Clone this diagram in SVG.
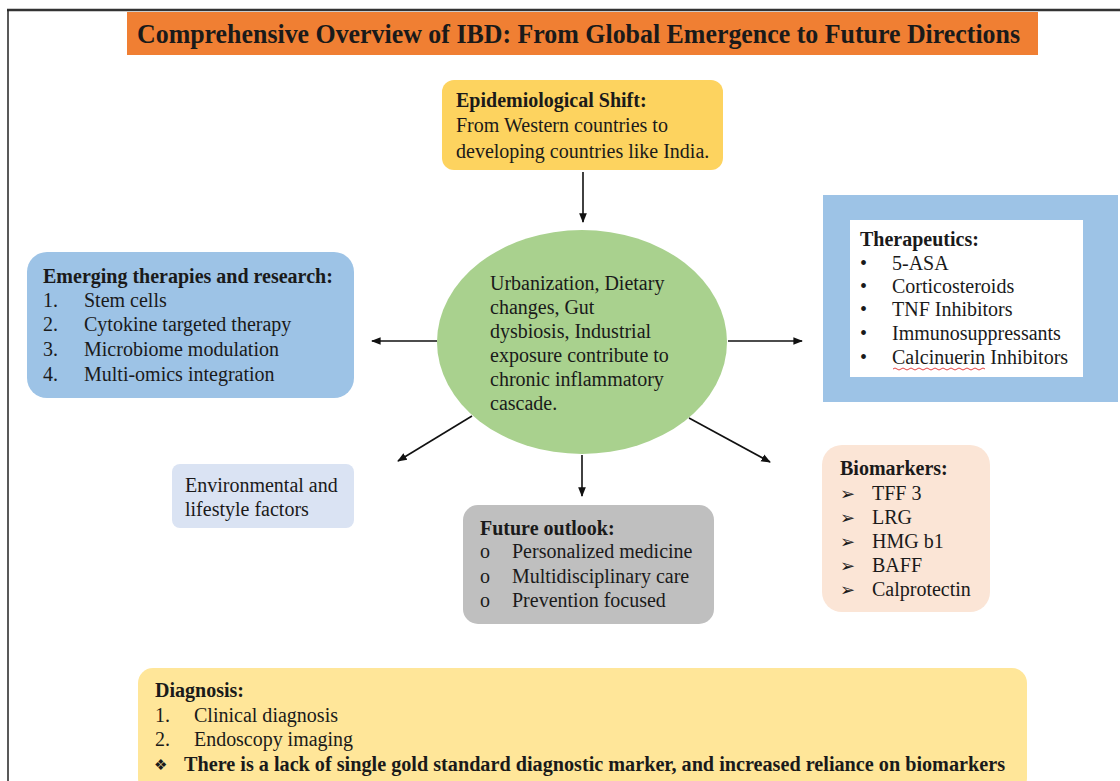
<svg xmlns="http://www.w3.org/2000/svg" width="1120" height="781" viewBox="0 0 1120 781">
<defs>
<style>
text{font-family:"Liberation Serif","Times New Roman",serif;font-size:20px;fill:#1a1a1a}
.b{font-weight:bold}
.sym{font-family:"DejaVu Sans",sans-serif;font-size:18px}
.dia{font-family:"DejaVu Sans",sans-serif;font-size:15px}
.ttl{font-size:28px}
.conn line{stroke:#111;stroke-width:1.6;fill:none}
</style>
<marker id="ah" viewBox="0 0 10 10" refX="9" refY="5" markerWidth="6" markerHeight="6" orient="auto" markerUnits="strokeWidth">
<path d="M0,1 L10,5 L0,9 Z" fill="#111"/>
</marker>
</defs>
<rect x="0" y="0" width="1120" height="781" fill="#fff"/>
<line x1="7" y1="10" x2="1120" y2="10" stroke="#333" stroke-width="2.5"/>
<line x1="8" y1="10" x2="8" y2="781" stroke="#222" stroke-width="1.5"/>

<g id="title">
<rect x="127" y="12" width="911" height="43" fill="#F07F33"/>
<text x="137" y="43" class="b ttl" textLength="883" lengthAdjust="spacingAndGlyphs">Comprehensive Overview of IBD: From Global Emergence to Future Directions</text>
</g>

<g id="epidemiological">
<rect x="442" y="80" width="281" height="90" rx="12" fill="#FDD35F"/>
<text x="456" y="107" class="b">Epidemiological Shift:</text>
<text x="456" y="132">From Western countries to</text>
<text x="456" y="158">developing countries like India.</text>
</g>

<g id="center">
<ellipse cx="582" cy="342" rx="145" ry="112" fill="#A9D18E"/>
<text x="490" y="290">Urbanization, Dietary</text>
<text x="490" y="314">changes, Gut</text>
<text x="490" y="338">dysbiosis, Industrial</text>
<text x="490" y="362">exposure contribute to</text>
<text x="490" y="386">chronic inflammatory</text>
<text x="490" y="410">cascade.</text>
</g>

<g id="therapeutics">
<rect x="823" y="195" width="295" height="207" fill="#9DC3E6"/>
<rect x="850" y="220" width="233" height="157" fill="#fff"/>
<text x="860" y="246" class="b">Therapeutics:</text>
<text x="860" y="270">•</text><text x="892" y="270">5-ASA</text>
<text x="860" y="293">•</text><text x="892" y="293">Corticosteroids</text>
<text x="860" y="316">•</text><text x="892" y="316">TNF Inhibitors</text>
<text x="860" y="340">•</text><text x="892" y="340">Immunosuppressants</text>
<text x="860" y="364">•</text><text x="892" y="364">Calcinuerin Inhibitors</text>
<path d="M893,369 q2,-2 4,0 t4,0 t4,0 t4,0 t4,0 t4,0 t4,0 t4,0 t4,0 t4,0 t4,0 t4,0 t4,0 t4,0 t4,0 t4,0 t4,0 t4,0 t4,0 t4,0 t4,0 t4,0 t4,0" fill="none" stroke="#e03030" stroke-width="0.9"/>
</g>

<g id="emerging">
<rect x="27" y="252" width="327" height="146" rx="20" fill="#9DC3E6"/>
<text x="43" y="283" class="b">Emerging therapies and research:</text>
<text x="43" y="307">1.</text><text x="84" y="307">Stem cells</text>
<text x="43" y="331">2.</text><text x="84" y="331">Cytokine targeted therapy</text>
<text x="43" y="356">3.</text><text x="84" y="356">Microbiome modulation</text>
<text x="43" y="381">4.</text><text x="84" y="381">Multi-omics integration</text>
</g>

<g id="environmental">
<rect x="172" y="464" width="182" height="64" rx="8" fill="#DAE3F3"/>
<text x="185" y="492">Environmental and</text>
<text x="185" y="516">lifestyle factors</text>
</g>

<g id="future">
<rect x="463" y="505" width="251" height="119" rx="15" fill="#BFBFBF"/>
<text x="480" y="535" class="b">Future outlook:</text>
<text x="480" y="558">o</text><text x="512" y="558">Personalized medicine</text>
<text x="480" y="583">o</text><text x="512" y="583">Multidisciplinary care</text>
<text x="480" y="607">o</text><text x="512" y="607">Prevention focused</text>
</g>

<g id="biomarkers">
<rect x="822" y="445" width="168" height="167" rx="20" fill="#FBE5D6"/>
<text x="840" y="475" class="b">Biomarkers:</text>
<text x="840" y="500" class="sym">➢</text><text x="872" y="500">TFF 3</text>
<text x="840" y="524" class="sym">➢</text><text x="872" y="524">LRG</text>
<text x="840" y="548" class="sym">➢</text><text x="872" y="548">HMG b1</text>
<text x="840" y="572" class="sym">➢</text><text x="872" y="572">BAFF</text>
<text x="840" y="596" class="sym">➢</text><text x="872" y="596">Calprotectin</text>
</g>

<g id="diagnosis">
<rect x="138" y="668" width="889" height="125" rx="15" fill="#FFE699"/>
<text x="155" y="697" class="b" textLength="89" lengthAdjust="spacingAndGlyphs">Diagnosis:</text>
<text x="155" y="722">1.</text><text x="194" y="722" textLength="144" lengthAdjust="spacingAndGlyphs">Clinical diagnosis</text>
<text x="155" y="746">2.</text><text x="194" y="746" textLength="159" lengthAdjust="spacingAndGlyphs">Endoscopy imaging</text>
<text x="154" y="770" class="dia">❖</text>
<text x="184" y="771" class="b" textLength="821" lengthAdjust="spacingAndGlyphs">There is a lack of single gold standard diagnostic marker, and increased reliance on biomarkers</text>
</g>

<g id="connectors" class="conn">
<line x1="583" y1="172" x2="583" y2="222" marker-end="url(#ah)"/>
<line x1="437" y1="341" x2="372" y2="341" marker-end="url(#ah)"/>
<line x1="728" y1="341" x2="802" y2="341" marker-end="url(#ah)"/>
<line x1="472" y1="416" x2="398" y2="461" marker-end="url(#ah)"/>
<line x1="689" y1="418" x2="770" y2="462" marker-end="url(#ah)"/>
<line x1="582" y1="455" x2="582" y2="496" marker-end="url(#ah)"/>
</g>
</svg>
